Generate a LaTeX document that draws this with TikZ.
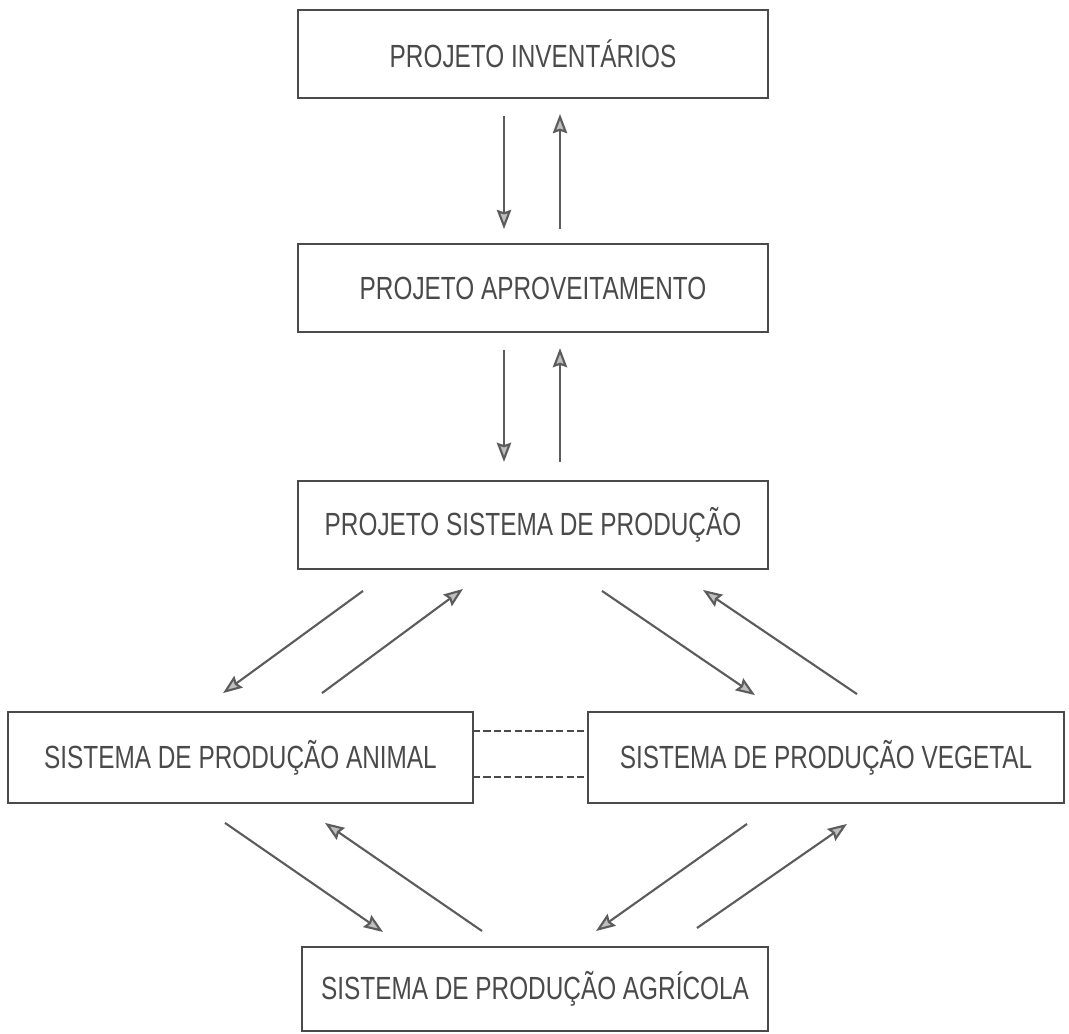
\documentclass[tikz,border=0pt]{standalone}
\usepackage{fontspec}
\setmainfont[FakeStretch=0.76]{Liberation Sans}
\usetikzlibrary{positioning, calc, arrows.meta}
\definecolor{tinta}{HTML}{4A4A4A}
\definecolor{traco}{HTML}{5C5C5C}
\tikzset{
x=0.025cm, y=-0.025cm, % one unit is one pixel of the scan, y runs down
>={Stealth[length=0.48cm, width=0.36cm, inset=0.06cm, fill=gray!50]}, % grey filled heads
caixa/.style={draw=tinta, line width=1.9pt, inner sep=0pt, outer sep=0pt, minimum height=2.2cm, font=\fontsize{22.8}{26}\selectfont, text=tinta}, % the project boxes
fluxo/.style={->, draw=traco, line width=1.5pt}, % arrows between boxes
elo/.style={draw=tinta, line width=1.5pt, dash pattern=on 0.18cm off 0.08cm}, % dashed link
}

\begin{document}
\begin{tikzpicture}
    \useasboundingbox (0,0) rectangle (1069,1033);

    \node[caixa, minimum width=11.75cm] (inv) at (533,54) {PROJETO  INVENTÁRIOS};
    \node[caixa, minimum width=11.75cm] (aprov) [below=3.65cm of inv] {PROJETO APROVEITAMENTO};
    \node[caixa, minimum width=11.75cm] (sist) [below=3.72cm of aprov] {PROJETO SISTEMA DE  PRODUÇÃO};

    \node[caixa, minimum width=11.62cm, minimum height=2.27cm] (animal) at (240.5,757.5) {SISTEMA  DE  PRODUÇÃO  ANIMAL};
    \node[caixa, minimum width=11.9cm, minimum height=2.27cm] (vegetal) at (826,757.5) {SISTEMA  DE  PRODUÇÃO  VEGETAL};
    \node[caixa, minimum width=11.65cm, minimum height=2.1cm] (agric) at (535,989) {SISTEMA DE  PRODUÇÃO  AGRÍCOLA};

    % vertical pairs
    \draw[fluxo] ($(inv.south)+(-29,18)$) -- ($(aprov.north)+(-29,-15)$);
    \draw[fluxo] ($(aprov.north)+(27,-15)$) -- ($(inv.south)+(27,16)$);
    \draw[fluxo] ($(aprov.south)+(-29,18)$) -- ($(sist.north)+(-29,-19)$);
    \draw[fluxo] ($(sist.north)+(27,-19)$) -- ($(aprov.south)+(27,16)$);

    % towards animal and vegetal
    \draw[fluxo] ($(sist.south)+(-170,22)$) -- ($(animal.north)+(-17.5,-19)$);
    \draw[fluxo] ($(animal.north)+(81.5,-19)$) -- ($(sist.south)+(-70,20)$);
    \draw[fluxo] ($(sist.south)+(69,22)$) -- ($(vegetal.north)+(-71,-17)$);
    \draw[fluxo] ($(vegetal.north)+(31,-18)$) -- ($(sist.south)+(170,21)$);

    \draw[elo] ($(animal.east)+(0,-26.5)$) -- ($(vegetal.west)+(0,-26.5)$);
    \draw[elo] ($(animal.east)+(0,19.5)$) -- ($(vegetal.west)+(0,19.5)$);

    % towards agricola
    \draw[fluxo] ($(animal.south)+(-15.5,20)$) -- ($(agric.north)+(-152,-15)$);
    \draw[fluxo] ($(agric.north)+(-53,-16)$) -- ($(animal.south)+(84.5,20)$);
    \draw[fluxo] ($(vegetal.south)+(-79,21)$) -- ($(agric.north)+(61,-16)$);
    \draw[fluxo] ($(agric.north)+(162,-19)$) -- ($(vegetal.south)+(21,21)$);
\end{tikzpicture}
\end{document}
